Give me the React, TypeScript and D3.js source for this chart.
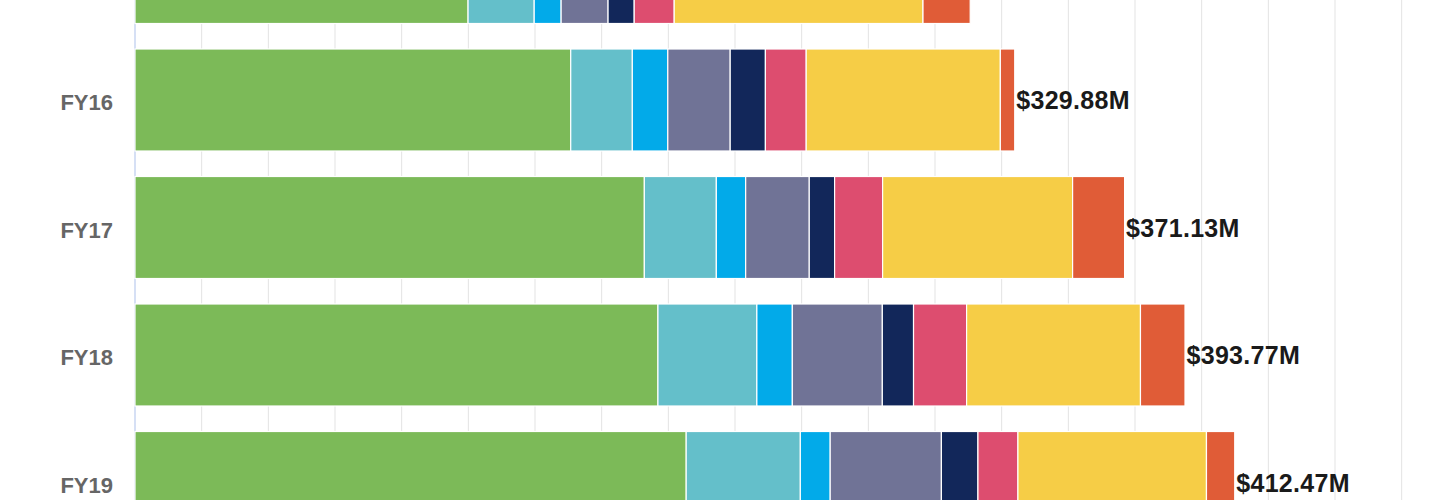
import * as d3 from "d3";

// fiscal years, top to bottom (FY15 is mostly above the visible area)
const YEARS = ["FY15", "FY16", "FY17", "FY18", "FY19"];

// each series: spending per year, $M
const GREEN = [124.9, 163.4, 191.0, 196.1, 206.7];
const TEAL = [24.8, 23.1, 27.0, 37.1, 42.8];
const BLUE = [10.1, 13.3, 11.0, 13.3, 11.2];
const SLATE = [17.6, 23.4, 23.85, 33.75, 41.7];
const NAVY = [9.8, 13.2, 9.5, 11.7, 13.7];
const PINK = [15.0, 15.3, 18.0, 19.9, 15.0];
const YELLOW = [93.3, 72.8, 71.25, 65.2, 70.7];
const ORANGE = [17.7, 5.4, 19.5, 16.7, 10.6];

const TOTAL_LABELS = ["$313.20M", "$329.88M", "$371.13M", "$393.77M", "$412.47M"];

const SERIES = [
  { key: "green", values: GREEN, color: "#7cba58" },
  { key: "teal", values: TEAL, color: "#64bfca" },
  { key: "blue", values: BLUE, color: "#02aae9" },
  { key: "slate", values: SLATE, color: "#707396" },
  { key: "navy", values: NAVY, color: "#12275a" },
  { key: "pink", values: PINK, color: "#dd4d6f" },
  { key: "yellow", values: YELLOW, color: "#f6cd46" },
  { key: "orange", values: ORANGE, color: "#e05c37" },
];

const WIDTH = 1440;
const HEIGHT = 500;
const FONT = "'Liberation Sans', Arial, sans-serif";

type Row = { year: string } & Record<string, number | string>;

export default function App() {
  const rows: Row[] = YEARS.map((year, i) => {
    const r: Row = { year };
    SERIES.forEach((s) => (r[s.key] = s.values[i]));
    return r;
  });

  const stacked = d3
    .stack<Row>()
    .keys(SERIES.map((s) => s.key))
    .value((d, k) => d[k] as number)(rows);

  const x = d3.scaleLinear().domain([0, 500]).range([135, 135 + 500 * (200 / 75)]);

  const y = d3
    .scaleBand<string>()
    .domain(YEARS)
    .range([-91.25, -91.25 + 637.5])
    .paddingInner(0.2)
    .paddingOuter(0.1);

  const bw = y.bandwidth();
  const ticks = d3.range(25, 501, 25);
  const mid = (yr: string) => (y(yr) ?? 0) + bw / 2;
  // labels of rows scrolled above the view are not drawn
  const shown = YEARS.map((yr, i) => ({ yr, i })).filter(({ yr }) => mid(yr) > 0);

  return (
    <div style={{ position: "fixed", left: 0, top: 0 }}>
      <svg width={WIDTH} height={HEIGHT} style={{ display: "block", background: "#fff" }}>
        <g>
          {ticks.map((t) => (
            <line
              key={t}
              x1={x(t)}
              x2={x(t)}
              y1={0}
              y2={HEIGHT}
              stroke="#e3e3e3"
              strokeWidth={1}
            />
          ))}
          <line x1={x(0)} x2={x(0)} y1={0} y2={HEIGHT} stroke="#c9d6f2" strokeWidth={1.5} />
        </g>

        {stacked.map((layer, li) => (
          <g key={layer.key} fill={SERIES[li].color}>
            {layer.map((d) => (
              <rect
                key={d.data.year}
                x={x(d[0])}
                y={y(d.data.year)}
                width={x(d[1]) - x(d[0])}
                height={bw}
                stroke="#fff"
                strokeWidth={1.2}
              />
            ))}
          </g>
        ))}

        <g fontFamily={FONT} fontWeight="bold">
          {shown.map(({ yr }) => (
            <text
              key={yr}
              x={113}
              y={mid(yr)}
              dy="0.46em"
              textAnchor="end"
              fontSize={22}
              fill="#666"
            >
              {yr}
            </text>
          ))}
          {shown.map(({ yr, i }) => {
            const end = stacked[stacked.length - 1][i][1];
            return (
              <text
                key={yr}
                x={x(end) + 1.5}
                y={mid(yr)}
                dy="0.37em"
                fontSize={25}
                letterSpacing={0.3}
                fill="#1a1a1a"
              >
                {TOTAL_LABELS[i]}
              </text>
            );
          })}
        </g>
      </svg>
    </div>
  );
}
